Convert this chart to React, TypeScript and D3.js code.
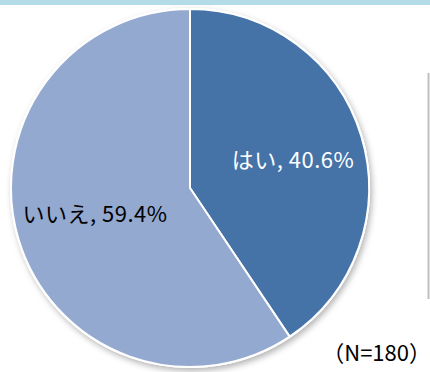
import React from "react";
import * as d3 from "d3";

const categories = ["はい", "いいえ"];
const values = [40.6, 59.4];
const colors = ["#4573a7", "#94a9d0"];
const labelColors = ["#ffffff", "#000000"];
const note = "（N=180）";

export default function App() {
  const W = 430, H = 372;
  const cx = 190, cy = 188, r = 179;
  const pie = d3.pie<number>().sort(null).value((d) => d)(values);
  const arc = d3.arc<d3.PieArcDatum<number>>().innerRadius(0).outerRadius(r);
  const labelPos = [
    [293, 168],
    [95, 222],
  ];
  return (
    <svg width={W} height={H} style={{ position: "absolute", left: 0, top: 0 }} fontFamily="'Noto Sans CJK JP', sans-serif">
      <defs>
        <filter id="sh" x="-20%" y="-20%" width="140%" height="140%">
          <feDropShadow dx="2" dy="3" stdDeviation="3" floodColor="#000" floodOpacity="0.3" />
        </filter>
      </defs>
      <rect x={0} y={0} width={W} height={5} fill="#b4dce8" />
      <line x1={428.5} x2={428.5} y1={73} y2={299} stroke="#c0c0c0" strokeWidth={2} />
      <g transform={`translate(${cx},${cy})`}>
        <circle r={r + 1} fill="#fff" filter="url(#sh)" />
        {pie.map((p, i) => (
          <path key={i} d={arc(p) || ""} fill={colors[i]} stroke="#fff" strokeWidth={2} strokeLinejoin="round" />
        ))}
      </g>
      {pie.map((p, i) => (
        <text key={i} x={labelPos[i][0]} y={labelPos[i][1]} textAnchor="middle" fontSize={22} letterSpacing={0.5} fill={labelColors[i]}>
          {categories[i]}, {values[i].toFixed(1)}%
        </text>
      ))}
      <text x={431} y={361} textAnchor="end" fontSize={22} fill="#000">{note}</text>
    </svg>
  );
}
